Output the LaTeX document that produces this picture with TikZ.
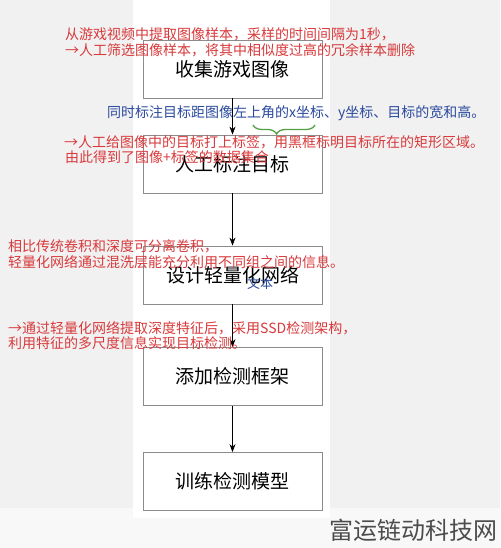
\documentclass[tikz,border=0pt]{standalone}
\usepackage{fontspec}
\usetikzlibrary{arrows.meta,decorations.pathreplacing}
\setmainfont{Noto Sans CJK SC}
\definecolor{notered}{HTML}{D8393B}
\definecolor{noteblue}{HTML}{2B4A9E}
\definecolor{bracegreen}{HTML}{55A045}
\definecolor{bggray}{HTML}{F1F1F1}
\definecolor{stripgray}{HTML}{F8F8F8}
\definecolor{boxline}{HTML}{8C8C8C}

\begin{document}
\begin{tikzpicture}[x=1pt,y=-1pt,
	stepbox/.style={draw=boxline,line width=0.8pt,fill=white,minimum width=179pt,
		minimum height=58pt,inner sep=0pt,font=\fontsize{19}{19}\selectfont},
	rednote/.style={anchor=west,inner sep=0pt,text=notered,font=\fontsize{14}{14}\selectfont},
	bluenote/.style={rednote,text=noteblue},
	flow/.style={-{Stealth[length=8pt,width=6pt]},line width=0.7pt}]
		\useasboundingbox (0,0) rectangle (500,548);
		% background and white panel
		\fill[bggray] (0,0) rectangle (500,508);
		\fill[stripgray] (0,508) rectangle (500,548);
		\fill[white] (133,0) rectangle (330,518);
		\def\xc{232.5};
		% steps
		\node[stepbox] (collect) at (\xc,69) {收集游戏图像};
		\node[stepbox] (label) at (\xc,164) {人工标注目标};
		\node[stepbox] (design) at (\xc,275) {设计轻量化网络};
		\node[stepbox] (detect) at (\xc,376.5) {添加检测框架};
		\node[stepbox] (train) at (\xc,481.5) {训练检测模型};
		\draw[flow] (collect) -- (label);
		\draw[flow] (label) -- (design);
		\draw[flow] (design) -- (detect);
		\draw[flow] (detect) -- (train);
		% notes
		\node[rednote] (noteA) at (65,34) {从游戏视频中提取图像样本，采样的时间间隔为1秒，};
		\node[rednote] (noteB) at (65,50) {→人工筛选图像样本，将其中相似度过高的冗余样本删除};
		\node[bluenote] (noteC) at (107,113) {同时标注目标距图像左上角的x坐标、y坐标、目标的宽和高。};
		\draw[bracegreen,line width=1.3pt,decorate,
			decoration={brace,mirror,amplitude=9pt,aspect=0.38}] (253,125) -- (315,125);
		\node[rednote] (noteD) at (64,142) {→人工给图像中的目标打上标签，用黑框标明目标所在的矩形区域。};
		\node[rednote] (noteE) at (65,157) {由此得到了图像+标签的数据集合};
		\node[rednote] (noteF) at (8,246) {相比传统卷积和深度可分离卷积，};
		\node[rednote] (noteG) at (8,262) {轻量化网络通过混洗层能充分利用不同组之间的信息。};
		\node[bluenote,font=\fontsize{13}{13}\selectfont] (noteH) at (247,284) {文本};
		\node[rednote] (noteI) at (8,328) {→通过轻量化网络提取深度特征后，采用SSD检测架构，};
		\node[rednote] (noteJ) at (8,343) {利用特征的多尺度信息实现目标检测。};
		% watermark
		\node[anchor=east,inner sep=0pt,text=black!70,font=\fontsize{24}{24}\selectfont] (mark) at (498,530) {富运链动科技网};
		\end{tikzpicture}
\end{document}
